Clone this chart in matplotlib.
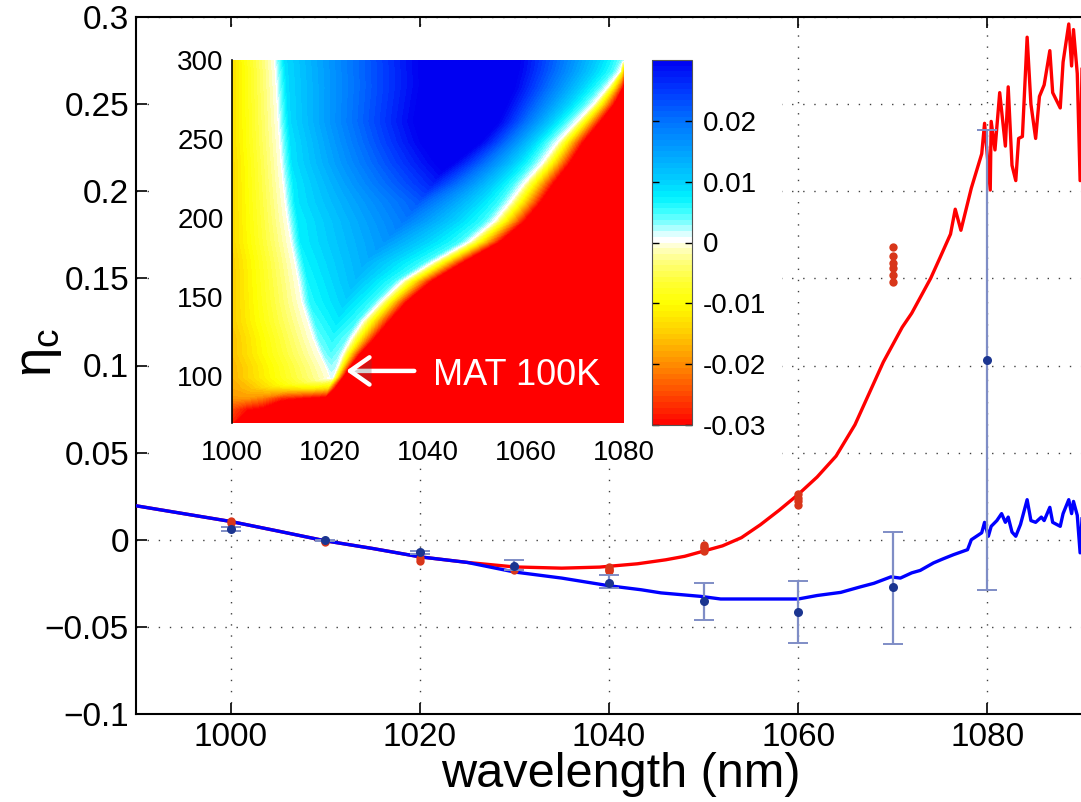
import numpy as np
import matplotlib
matplotlib.use("Agg")
import matplotlib.pyplot as plt
from matplotlib.colors import LinearSegmentedColormap, ListedColormap, Normalize
from matplotlib.patches import Rectangle
import matplotlib.patheffects as pe
import matplotlib.cm as cm

plt.rcParams['font.family'] = ['Liberation Sans', 'DejaVu Sans']
plt.rcParams['mathtext.fontset'] = 'custom'
plt.rcParams['mathtext.rm'] = 'Liberation Sans'
plt.rcParams['mathtext.it'] = 'Liberation Sans:italic'

# ---------------- main panel: eta_c vs wavelength ----------------
wl_red = [990, 995, 1000, 1005, 1010, 1015, 1020, 1025, 1030, 1035, 1039, 1043,
          1046, 1048, 1050, 1052, 1054, 1056, 1058, 1060, 1062, 1064, 1066, 1067,
          1068, 1069, 1070, 1071, 1072, 1073, 1074, 1075, 1076.1, 1076.6, 1077.2,
          1077.7, 1078.3, 1079.4, 1079.7, 1080.3, 1080.4, 1080.8, 1081.3, 1081.9,
          1082.2, 1082.6, 1083.0, 1083.3, 1083.7, 1084.2, 1084.6, 1085.1, 1085.5,
          1086.0, 1086.6, 1086.9, 1087.7, 1088.0, 1088.6, 1088.9, 1089.1, 1089.5,
          1089.8, 1090.0]
eta_red = [0.0195, 0.015, 0.0105, 0.005, -0.0006, -0.005, -0.0098, -0.013, -0.0156,
           -0.0163, -0.0157, -0.0138, -0.0115, -0.0095, -0.0065, -0.0035, 0.0012,
           0.0086, 0.017, 0.026, 0.036, 0.048, 0.066, 0.078, 0.09, 0.102, 0.112,
           0.122, 0.13, 0.14, 0.15, 0.162, 0.1754, 0.1897, 0.1776, 0.1886, 0.2018,
           0.2215, 0.239, 0.2007, 0.2401, 0.2237, 0.2566, 0.2259, 0.2599, 0.2149,
           0.2061, 0.2303, 0.2314, 0.2884, 0.25, 0.2303, 0.2544, 0.261, 0.2807,
           0.2566, 0.2478, 0.2741, 0.296, 0.2719, 0.2928, 0.2675, 0.2061, 0.27]

wl_blue = [990, 995, 1000, 1005, 1010, 1015, 1020, 1025, 1030, 1035, 1040, 1043.4,
           1045.5, 1049.7, 1051.8, 1060, 1062, 1064.5, 1066.6, 1068, 1069.8, 1070.8,
           1072, 1072.9, 1074.3, 1075.3, 1076.4, 1077.9, 1078.3, 1079.4, 1079.7,
           1080.1, 1080.4, 1081.0, 1081.5, 1081.9, 1082.2, 1082.6, 1083.0, 1083.5,
           1084.2, 1084.6, 1085.1, 1085.7, 1086.0, 1086.6, 1086.9, 1087.7, 1088.0,
           1088.6, 1088.9, 1089.1, 1089.5, 1089.8, 1090.0]
eta_blue = [0.0195, 0.015, 0.0105, 0.005, -0.0006, -0.005, -0.0098, -0.013, -0.0185,
            -0.022, -0.0264, -0.0287, -0.0305, -0.0325, -0.034, -0.034, -0.032,
            -0.0302, -0.027, -0.025, -0.0213, -0.022, -0.019, -0.0176, -0.0133,
            -0.011, -0.0086, -0.0057, 0.0, 0.004, 0.01, 0.002, 0.0077, 0.011, 0.015,
            0.01, 0.013, 0.0044, 0.002, 0.0088, 0.023, 0.011, 0.01, 0.013, 0.011,
            0.0186, 0.01, 0.0077, 0.015, 0.023, 0.015, 0.022, 0.014, -0.0075, 0.012]

# measured points (blue, with error bars)
wl_meas = [1000, 1010, 1020, 1030, 1040, 1050, 1060, 1070, 1080]
eta_meas = [0.0061, -0.0004, -0.0073, -0.0153, -0.0249, -0.0354, -0.0413, -0.027, 0.103]
err_low = [0.001, 0.0005, 0.0008, 0.0023, 0.0028, 0.0105, 0.0177, 0.033, 0.132]
err_high = [0.001, 0.0005, 0.0008, 0.0034, 0.0048, 0.0105, 0.0178, 0.0316, 0.132]

# computed points (red)
wl_pts = [1000, 1000, 1010, 1010, 1020, 1020, 1030, 1030,
          1040, 1040, 1040, 1040, 1050, 1050, 1050, 1050,
          1060, 1060, 1060, 1060, 1070, 1070, 1070, 1070, 1070, 1070]
eta_pts = [0.011, 0.0095, -0.0015, -0.001, -0.012, -0.0105, -0.0176, -0.016,
           -0.0155, -0.0165, -0.0175, -0.018, -0.003, -0.004, -0.005, -0.0065,
           0.020, 0.022, 0.024, 0.026, 0.148, 0.152, 0.156, 0.159, 0.163, 0.168]

x_ticks = [1000, 1020, 1040, 1060, 1080]
y_ticks = [-0.1, -0.05, 0, 0.05, 0.1, 0.15, 0.2, 0.25, 0.3]
y_tick_labels = ['\u22120.1', '\u22120.05', '0', '0.05', '0.1', '0.15', '0.2', '0.25', '0.3']

# ---------------- inset map: rows of (wavelength node, value) ----------------
inset_temps = [70, 79, 86, 92, 99, 106, 114, 124, 135, 147, 160, 172, 185, 198,
               210, 222, 235, 248, 261, 272, 283, 293, 300]
inset_lams = [
    [1000, 1001.5, 1004, 1008, 1014, 1020, 1030, 1050, 1080],
    [1000, 1003, 1006, 1010, 1015, 1020, 1025, 1050, 1080],
    [1000, 1003, 1006, 1010, 1015, 1019, 1022, 1050, 1080],
    [1000, 1004, 1008, 1012, 1016, 1019.5, 1022, 1050, 1080],
    [1000, 1020.0, 1020.2, 1020.3, 1020.4, 1020.6, 1022.5, 1026, 1080],
    [1000, 1019.1, 1019.7, 1020.3, 1021.0, 1021.6, 1024, 1026, 1080],
    [1000, 1017.8, 1018.8, 1020.2, 1021.7, 1022.6, 1026, 1028, 1080],
    [1000, 1016.5, 1017.8, 1020.5, 1023.2, 1024.4, 1029, 1031, 1080],
    [1000, 1015.4, 1017, 1021.5, 1025.3, 1026.8, 1032, 1034, 1080],
    [1000, 1014.2, 1016, 1023, 1028.7, 1030.5, 1035.5, 1037.5, 1080],
    [1000, 1013.5, 1015.5, 1025, 1033, 1034.8, 1040.5, 1042.5, 1080],
    [1000, 1012.8, 1014.8, 1027, 1039, 1041, 1047, 1049, 1080],
    [1000, 1012, 1014, 1031, 1046.3, 1048.5, 1054.5, 1056.5, 1080],
    [1000, 1011.3, 1013.5, 1035, 1051.3, 1053.6, 1059.5, 1061.5, 1080],
    [1000, 1010.8, 1013, 1038, 1054.5, 1056.8, 1062.8, 1064.8, 1080],
    [1000, 1010.4, 1012.7, 1041, 1057.3, 1059.7, 1065.5, 1067.5, 1080],
    [1000, 1010, 1012.3, 1044, 1061, 1063.4, 1068.8, 1070.6, 1080],
    [1000, 1009.7, 1012, 1047, 1064, 1066.5, 1071.5, 1073.3, 1080],
    [1000, 1009.4, 1011.7, 1049, 1068, 1070.4, 1075, 1076.7, 1080],
    [1000, 1009.2, 1011.5, 1050, 1071.5, 1073.8, 1077.8, 1079.2, 1080],
    [1000, 1009, 1011.3, 1051, 1074.7, 1076.7, 1079.3, 1079.7, 1080],
    [1000, 1008.8, 1011.1, 1051, 1077.5, 1079.2, 1079.6, 1079.8, 1080],
    [1000, 1008.6, 1010.9, 1051, 1077, 1079, 1079.5, 1079.8, 1080],
]
inset_vals = [
    [-0.028, -0.04, -0.05, -0.06, -0.06, -0.06, -0.06, -0.06, -0.06],
    [-0.025, -0.029, -0.031, -0.04, -0.045, -0.05, -0.06, -0.06, -0.06],
    [-0.019, -0.019, -0.021, -0.027, -0.03, -0.032, -0.06, -0.06, -0.06],
    [-0.018, -0.016, -0.014, -0.013, -0.012, -0.014, -0.045, -0.06, -0.06],
    [-0.017, 0.0, 0.001, 0.0012, 0.001, 0.0, -0.03, -0.06, -0.06],
    [-0.017, 0.0, 0.002, 0.0025, 0.002, 0.0, -0.03, -0.06, -0.06],
    [-0.016, 0.0, 0.003, 0.0045, 0.003, 0.0, -0.03, -0.06, -0.06],
    [-0.016, 0.0, 0.004, 0.006, 0.004, 0.0, -0.03, -0.06, -0.06],
    [-0.015, 0.0, 0.005, 0.008, 0.005, 0.0, -0.03, -0.06, -0.06],
    [-0.015, 0.0, 0.006, 0.010, 0.005, 0.0, -0.03, -0.06, -0.06],
    [-0.015, 0.0, 0.0065, 0.012, 0.005, 0.0, -0.03, -0.06, -0.06],
    [-0.015, 0.0, 0.007, 0.0135, 0.005, 0.0, -0.03, -0.06, -0.06],
    [-0.014, 0.0, 0.0075, 0.016, 0.005, 0.0, -0.03, -0.06, -0.06],
    [-0.014, 0.0, 0.0075, 0.019, 0.005, 0.0, -0.03, -0.06, -0.06],
    [-0.014, 0.0, 0.008, 0.022, 0.005, 0.0, -0.03, -0.06, -0.06],
    [-0.014, 0.0, 0.008, 0.027, 0.005, 0.0, -0.03, -0.06, -0.06],
    [-0.014, 0.0, 0.0085, 0.032, 0.005, 0.0, -0.03, -0.06, -0.06],
    [-0.0135, 0.0, 0.0085, 0.037, 0.005, 0.0, -0.03, -0.06, -0.06],
    [-0.0135, 0.0, 0.009, 0.04, 0.005, 0.0, -0.03, -0.06, -0.06],
    [-0.0135, 0.0, 0.009, 0.04, 0.005, 0.0, -0.03, -0.05, -0.06],
    [-0.0135, 0.0, 0.009, 0.04, 0.005, 0.0, -0.025, -0.03, -0.035],
    [-0.0135, 0.0, 0.009, 0.04, 0.005, 0.0, -0.01, -0.015, -0.02],
    [-0.0135, 0.0, 0.009, 0.04, 0.007, 0.004, 0.003, 0.002, 0.001],
]
inset_x_ticks = [1000, 1020, 1040, 1060, 1080]
inset_y_ticks = [100, 150, 200, 250, 300]
cbar_ticks = [-0.03, -0.02, -0.01, 0, 0.01, 0.02]
cbar_labels = ['-0.03', '-0.02', '-0.01', '0', '0.01', '0.02']

# ---------------- colormap (red-yellow-white-cyan-blue, 64 steps) ----------------
vmin, vmax = -0.03, 0.03
anchors = [(-0.03, (1, 0, 0)), (-0.025, (1, 0.28, 0)), (-0.02, (1, 0.55, 0)),
           (-0.015, (1, 0.8, 0)), (-0.01, (1, 1, 0)), (-0.0065, (1, 1, 0.2)),
           (-0.003, (1, 1, 0.5)), (-0.0005, (1, 1, 0.82)), (0.0, (1, 1, 1)),
           (0.0009, (1, 1, 1)), (0.0015, (0.85, 1, 1)), (0.003, (0.55, 1, 1)),
           (0.005, (0.25, 1, 1)), (0.0075, (0, 0.95, 1)), (0.01, (0, 0.82, 1)),
           (0.015, (0, 0.63, 1)), (0.02, (0, 0.45, 1)), (0.025, (0, 0.22, 1)),
           (0.03, (0, 0, 0.95))]
smooth = LinearSegmentedColormap.from_list(
    'ryb', [((v - vmin) / (vmax - vmin), c) for v, c in anchors], N=1024)
nsteps = 64
mids = (np.arange(nsteps) + 0.5) / nsteps
cmap = ListedColormap(smooth(mids)).with_extremes(under=(1, 0, 0), over=(0, 0, 0.95))
norm = Normalize(vmin=vmin, vmax=vmax)

# ---------------- figure ----------------
W, H = 1081, 802
fig = plt.figure(figsize=(W / 100, H / 100), dpi=100)


def fx(px):
    return px / W


def fy(py):
    return 1 - py / H


ax = fig.add_axes([fx(136), fy(714), fx(1082) - fx(136), fy(17) - fy(714)])
ax.set_xlim(990, 1090)
ax.set_ylim(-0.1, 0.3)
ax.grid(True, color='k', linestyle=(0, (1, 7)), linewidth=1.0, alpha=0.75)
ax.set_axisbelow(True)

ax.plot(wl_red, eta_red, color='#ff0000', lw=2.4, zorder=3)
ax.plot(wl_blue, eta_blue, color='#0000ff', lw=2.4, zorder=4)
ax.plot(wl_pts, eta_pts, 'o', color='#d8361a', ms=6, mec='none', zorder=5)
eb = ax.errorbar(wl_meas, eta_meas, yerr=[err_low, err_high], fmt='o',
                 color='#1b3590', ms=6.5, mec='none', ecolor='#7f8dc6',
                 elinewidth=1.6, capsize=7, capthick=1.4, zorder=6)
for cl in eb[1]:
    cl.set_color('#2c3f8f')

ax.set_xticks(x_ticks)
ax.set_yticks(y_ticks)
ax.set_yticklabels(y_tick_labels)
ax.tick_params(direction='in', length=8, width=1.2, labelsize=24,
               top=True, right=False, pad=6)
ax.tick_params(axis='y', pad=5)
for s in ['left', 'bottom', 'top']:
    ax.spines[s].set_linewidth(1.5)
ax.spines['right'].set_visible(False)

ax.set_xlabel('wavelength (nm)', fontsize=35)
ax.xaxis.set_label_coords((620 - 136) / (1081 - 136), (714 - 752) / (714 - 17))
ax.set_ylabel(r'$\mathregular{\eta_c}$', fontsize=38)
ax.yaxis.set_label_coords((64 - 136) / (1081 - 136), (714 - 352) / (714 - 17))

# white backing behind the inset
fig.add_artist(Rectangle((fx(150), fy(468)), fx(782) - fx(150), fy(27) - fy(468),
                         transform=fig.transFigure, facecolor='white',
                         edgecolor='none', zorder=0.5))

# ---------------- inset ----------------
ax_in = fig.add_axes([fx(232), fy(423), fx(624) - fx(232), fy(60) - fy(423)], zorder=1)
Xg = np.array(inset_lams)
Yg = np.repeat(np.array(inset_temps, dtype=float)[:, None], Xg.shape[1], axis=1)
Zg = np.array(inset_vals)
levels = np.linspace(vmin, vmax, nsteps + 1)
ax_in.contourf(Xg, Yg, Zg, levels=levels, cmap=cmap, norm=norm, extend='both',
               antialiased=False)
ax_in.set_xlim(1000, 1080)
ax_in.set_ylim(70, 300)
ax_in.set_xticks(inset_x_ticks)
ax_in.set_yticks(inset_y_ticks)
ax_in.tick_params(length=0, labelsize=20)
ax_in.tick_params(axis='x', pad=12)
ax_in.tick_params(axis='y', pad=6)
for s in ['right', 'top', 'bottom']:
    ax_in.spines[s].set_visible(False)
ax_in.spines['left'].set_linewidth(1.2)

ax_in.annotate('', xy=(1023.3, 103), xytext=(1037.2, 103),
               arrowprops=dict(arrowstyle='->,head_length=0.5,head_width=0.35',
                               color='white', lw=3.2, shrinkA=0, shrinkB=0,
                               mutation_scale=28,
                               path_effects=[pe.SimplePatchShadow(offset=(1.5, -1.5),
                                                                  alpha=0.25),
                                             pe.Normal()]))
ax_in.text(1041.1, 94, 'MAT 100K', color='white', fontsize=26,
           ha='left', va='baseline')

# ---------------- colorbar ----------------
cax = fig.add_axes([fx(652), fy(425), fx(692) - fx(652), fy(60) - fy(425)], zorder=1)
sm = cm.ScalarMappable(norm=norm, cmap=cmap)
cb = fig.colorbar(sm, cax=cax, ticks=cbar_ticks)
cb.ax.set_yticklabels(cbar_labels)
cb.outline.set_linewidth(0.8)
cb.outline.set_edgecolor('#555555')
cax.tick_params(direction='in', length=5, width=1, labelsize=20, pad=8,
                left=True, right=True)

fig.savefig('out.png', dpi=100)
